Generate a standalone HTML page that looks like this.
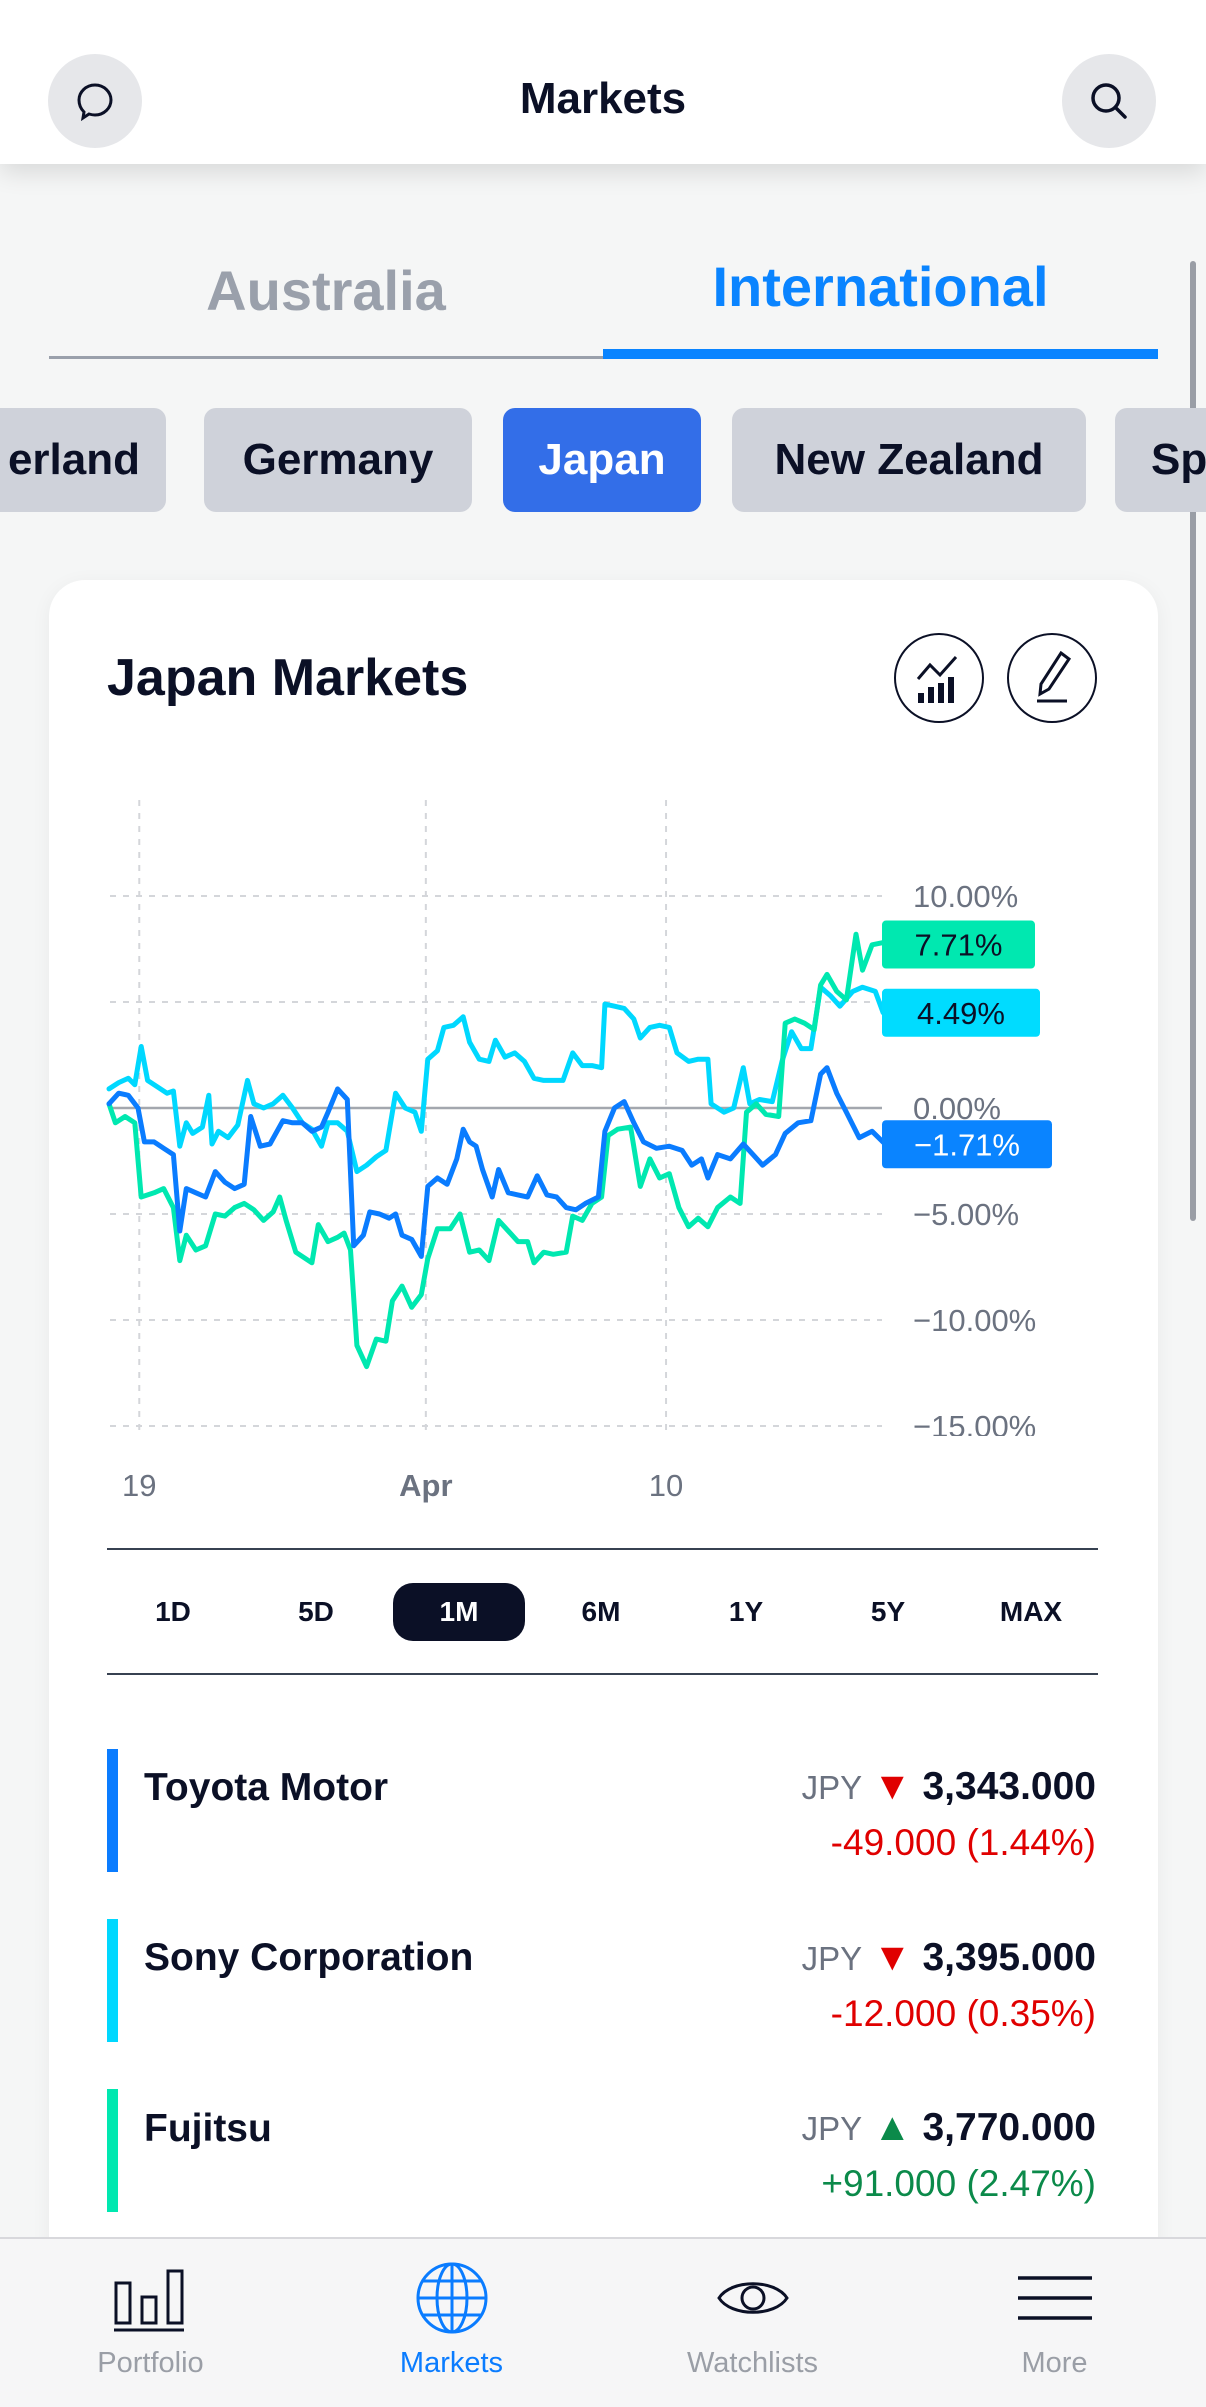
<!DOCTYPE html>
<html><head><meta charset="utf-8">
<style>
*{box-sizing:border-box;margin:0;padding:0}
body{width:1206px;height:2407px;background:#f5f6f6;font-family:"Liberation Sans",sans-serif;position:relative;overflow:hidden;color:#0b1026}
.abs{position:absolute}
.circ{position:absolute;width:94px;height:94px;border-radius:50%;background:#e6e7ea;display:flex;align-items:center;justify-content:center}
.chip{position:absolute;top:408px;height:104px;border-radius:12px;background:#cfd2da;font-size:44px;font-weight:bold;display:flex;align-items:center;justify-content:center;color:#0b1026}
.rng{position:absolute;top:1583px;height:58px;width:132px;font-size:28px;font-weight:bold;display:flex;align-items:center;justify-content:center;border-radius:20px}
.name{position:absolute;left:144px;font-size:39px;font-weight:bold}
.price{position:absolute;right:110px;font-size:39px;font-weight:bold;text-align:right;white-space:nowrap}
.cur{font-weight:normal;color:#6b7280;font-size:33px}
.chg{position:absolute;right:110px;font-size:37px;text-align:right}
.tab{position:absolute;top:2237px;width:301px;height:170px;text-align:center}
.tab span{position:absolute;left:0;right:0;top:110px;font-size:29px;color:#9a9ea6}
</style></head><body>
<div class="abs" style="left:0;top:0;width:1206px;height:164px;background:#fff;box-shadow:0 8px 24px rgba(0,0,0,0.12)"></div>
<div class="circ" style="left:48px;top:54px">
<svg width="44" height="44" viewBox="0 0 44 44"><path d="M22 6c9 0 16 7 16 15s-7 15-16 15c-2 0-4-.4-6-1l-6 4 1-6c-3-3-5-7-5-12 0-8 7-15 16-15z" fill="none" stroke="#0b1026" stroke-width="3"/></svg></div>
<div class="abs" style="left:0;width:1206px;top:74px;text-align:center;font-size:44px;font-weight:bold">Markets</div>
<div class="circ" style="left:1062px;top:54px">
<svg width="44" height="44" viewBox="0 0 44 44"><circle cx="19" cy="19" r="13" fill="none" stroke="#0b1026" stroke-width="3.5"/><line x1="29" y1="29" x2="38" y2="38" stroke="#0b1026" stroke-width="3.5" stroke-linecap="round"/></svg></div>

<div class="abs" style="left:49px;width:554px;top:258px;text-align:center;font-size:56px;font-weight:bold;color:#9aa0ab">Australia</div>
<div class="abs" style="left:603px;width:555px;top:254px;text-align:center;font-size:56px;font-weight:bold;color:#0a84ff">International</div>
<div class="abs" style="left:49px;top:356px;width:554px;height:3px;background:#9aa0ab"></div>
<div class="abs" style="left:603px;top:349px;width:555px;height:10px;background:#0a84ff"></div>
<div class="abs" style="left:1190px;top:261px;width:6px;height:960px;border-radius:3px;background:#9a9ea6"></div>

<div class="chip" style="left:-40px;width:206px;justify-content:flex-end;padding-right:26px">erland</div>
<div class="chip" style="left:204px;width:268px">Germany</div>
<div class="chip" style="left:503px;width:198px;background:#336ee8;color:#fff">Japan</div>
<div class="chip" style="left:732px;width:354px">New Zealand</div>
<div class="chip" style="left:1115px;width:140px;justify-content:flex-start;padding-left:36px">Sp</div>

<div class="abs" style="left:49px;top:580px;width:1109px;height:1700px;background:#fff;border-radius:36px;box-shadow:0 4px 20px rgba(0,0,0,0.05)"></div>
<div class="abs" style="left:107px;top:648px;font-size:52px;font-weight:bold">Japan Markets</div>
<div class="abs" style="left:894px;top:633px;width:90px;height:90px;border:2px solid #0b1026;border-radius:50%">
<svg width="86" height="86" viewBox="0 0 86 86"><polyline points="22,44 34,30 44,40 60,22" fill="none" stroke="#0b1026" stroke-width="3"/><rect x="22" y="58" width="6" height="10" fill="#0b1026"/><rect x="32" y="52" width="6" height="16" fill="#0b1026"/><rect x="42" y="48" width="6" height="20" fill="#0b1026"/><rect x="52" y="42" width="6" height="26" fill="#0b1026"/></svg></div>
<div class="abs" style="left:1007px;top:633px;width:90px;height:90px;border:2px solid #0b1026;border-radius:50%">
<svg width="86" height="86" viewBox="0 0 86 86"><path d="M52 18l8 6-20 30-9 5 1-10z" fill="none" stroke="#0b1026" stroke-width="3"/><line x1="28" y1="66" x2="58" y2="66" stroke="#0b1026" stroke-width="3"/></svg></div>

<svg id="chart" class="abs" style="left:0;top:780px" width="1206" height="656"></svg>
<div id="xlabels"></div>

<div class="abs" style="left:107px;top:1548px;width:991px;height:2px;background:#374151"></div>
<div class="rng" style="left:107px">1D</div>
<div class="rng" style="left:250px">5D</div>
<div class="rng" style="left:393px;background:#0b1026;color:#fff">1M</div>
<div class="rng" style="left:535px">6M</div>
<div class="rng" style="left:680px">1Y</div>
<div class="rng" style="left:822px">5Y</div>
<div class="rng" style="left:965px">MAX</div>
<div class="abs" style="left:107px;top:1673px;width:991px;height:2px;background:#374151"></div>

<div class="abs" style="left:107px;top:1749px;width:11px;height:123px;background:#0a7cff"></div>
<div class="name" style="top:1766px">Toyota Motor</div>
<div class="price" style="top:1765px"><span class="cur">JPY</span> <span style="color:#e00000">▼</span> 3,343.000</div>
<div class="chg" style="top:1822px;color:#e00000">-49.000 (1.44%)</div>

<div class="abs" style="left:107px;top:1919px;width:11px;height:123px;background:#00d8ff"></div>
<div class="name" style="top:1936px">Sony Corporation</div>
<div class="price" style="top:1936px"><span class="cur">JPY</span> <span style="color:#e00000">▼</span> 3,395.000</div>
<div class="chg" style="top:1993px;color:#e00000">-12.000 (0.35%)</div>

<div class="abs" style="left:107px;top:2089px;width:11px;height:123px;background:#00e8b0"></div>
<div class="name" style="top:2107px">Fujitsu</div>
<div class="price" style="top:2106px"><span class="cur">JPY</span> <span style="color:#0b8a4a">▲</span> 3,770.000</div>
<div class="chg" style="top:2163px;color:#0b8a4a">+91.000 (2.47%)</div>

<div class="abs" style="left:0;top:2237px;width:1206px;height:170px;background:#f6f6f7;border-top:2px solid #d8d8dc"></div>
<div class="tab" style="left:0">
<svg class="abs" style="left:110px;top:30px" width="80" height="66" viewBox="0 0 80 66"><rect x="6" y="16" width="14" height="40" fill="none" stroke="#0b1026" stroke-width="3"/><rect x="32" y="30" width="14" height="26" fill="none" stroke="#0b1026" stroke-width="3"/><rect x="58" y="4" width="14" height="52" fill="none" stroke="#0b1026" stroke-width="3"/><line x1="4" y1="63" x2="74" y2="63" stroke="#0b1026" stroke-width="3"/></svg><span>Portfolio</span></div>
<div class="tab" style="left:301px">
<svg class="abs" style="left:114px;top:24px" width="74" height="74" viewBox="0 0 74 74"><g fill="none" stroke="#0a7cff" stroke-width="3"><circle cx="37" cy="37" r="34"/><ellipse cx="37" cy="37" rx="15" ry="34"/><line x1="37" y1="3" x2="37" y2="71"/><line x1="3" y1="37" x2="71" y2="37"/><line x1="8" y1="20" x2="66" y2="20"/><line x1="8" y1="54" x2="66" y2="54"/></g></svg><span style="color:#0a7cff">Markets</span></div>
<div class="tab" style="left:602px">
<svg class="abs" style="left:114px;top:36px" width="74" height="50" viewBox="0 0 74 50"><path d="M3 25C15 6 59 6 71 25C59 44 15 44 3 25z" fill="none" stroke="#0b1026" stroke-width="3"/><circle cx="37" cy="25" r="11" fill="none" stroke="#0b1026" stroke-width="3"/></svg><span>Watchlists</span></div>
<div class="tab" style="left:904px">
<svg class="abs" style="left:114px;top:38px" width="74" height="46" viewBox="0 0 74 46"><g stroke="#0b1026" stroke-width="3.5"><line x1="0" y1="3" x2="74" y2="3"/><line x1="0" y1="23" x2="74" y2="23"/><line x1="0" y1="43" x2="74" y2="43"/></g></svg><span>More</span></div>

<script>
const toyotaT=[30,45,60,75,85,100,115,130,140,150,165,180,195,210,225,240,250,265,280,300,315,330,345,360,370,385,400,410,425,435,450,465,475,485,500,515,525,540,555,570,580,590,600,610,625,635,650,665,680,695,710,725,740,755,770,790,800,815,830,845,860,880,900,920,935,950,960,975,995,1015,1030,1045,1065,1080,1100,1120,1135,1145,1160,1175,1195,1215,1235];
const toyotaV=[0.2,0.7,0.6,0,-1.6,-1.6,-1.9,-2.2,-5.8,-3.8,-4.0,-4.2,-3.0,-3.5,-3.8,-3.6,-0.4,-1.8,-1.7,-0.6,-0.7,-0.7,-1.1,-0.9,-0.2,0.9,0.4,-6.5,-6.0,-4.9,-5.0,-5.2,-5.0,-6.0,-6.2,-7.0,-3.7,-3.3,-3.6,-2.4,-1.0,-1.6,-1.8,-2.9,-4.2,-2.9,-4.0,-4.1,-4.2,-3.2,-4.1,-4.2,-4.7,-4.8,-4.5,-4.2,-1.1,0,0.3,-0.7,-1.6,-1.9,-1.8,-2.0,-2.7,-2.4,-3.3,-2.2,-2.4,-1.7,-2.2,-2.7,-2.2,-1.2,-0.7,-0.6,1.6,1.9,0.7,-0.2,-1.4,-1.1,-1.7];
const sonyT=[30,45,60,70,80,90,105,120,130,140,150,160,175,185,190,200,215,230,245,255,270,285,300,315,330,345,360,370,385,400,415,430,445,460,475,490,505,515,525,540,550,565,580,590,605,620,630,645,660,675,690,705,720,735,750,765,780,795,800,815,830,845,855,870,885,900,912,930,945,960,965,985,1000,1015,1025,1040,1060,1075,1090,1105,1120,1135,1150,1165,1185,1200,1220,1232];
const sonyV=[0.9,1.2,1.4,1.1,2.9,1.3,1.0,0.7,0.8,-1.8,-0.7,-1.2,-0.9,0.6,-1.7,-1.1,-1.4,-0.8,1.3,0.2,0,0.2,0.6,0,-0.7,-1.0,-1.8,-0.7,-0.7,-1.1,-3.0,-2.7,-2.3,-2.0,0.7,0,-0.2,-1.1,2.3,2.7,3.8,3.9,4.3,3.1,2.3,2.2,3.2,2.4,2.6,2.2,1.4,1.3,1.3,1.3,2.6,2.0,2.0,1.9,4.9,4.8,4.7,4.2,3.3,3.8,3.9,3.8,2.6,2.2,2.3,2.3,0.2,-0.2,0,1.9,0.2,0.4,0.3,2.2,3.6,2.8,2.8,5.7,5.3,4.8,5.5,5.7,5.5,4.5];
const fujitsuT=[30,40,55,70,80,100,115,130,140,150,165,180,195,210,225,240,255,270,285,295,305,320,345,355,370,385,395,405,415,430,445,460,470,485,500,515,525,540,560,575,590,605,620,635,650,665,680,690,705,720,740,750,765,780,795,805,820,840,855,870,885,900,915,930,945,960,975,995,1010,1020,1035,1050,1070,1080,1095,1110,1125,1135,1145,1160,1175,1190,1200,1215,1232];
const fujitsuV=[0.2,-0.7,-0.4,-0.7,-4.2,-4.0,-3.8,-4.7,-7.2,-6.0,-6.7,-6.5,-5.0,-5.1,-4.7,-4.5,-4.8,-5.3,-4.9,-4.2,-5.3,-6.8,-7.3,-5.5,-6.3,-6.1,-5.9,-6.7,-11.2,-12.2,-10.9,-11.0,-9.1,-8.4,-9.4,-8.8,-7.1,-5.7,-5.7,-5.0,-6.8,-6.7,-7.2,-5.3,-5.8,-6.3,-6.3,-7.3,-6.8,-6.9,-6.8,-5.1,-5.3,-4.5,-4.2,-1.3,-1.0,-0.9,-3.7,-2.4,-3.3,-3.1,-4.7,-5.6,-5.2,-5.6,-4.7,-4.2,-4.5,-0.2,0.2,-0.3,-0.4,4.0,4.2,4.0,3.7,5.8,6.3,5.5,5.1,8.2,6.5,7.7,7.8];
const yTicks=[10,5,0,-5,-10,-15];
const xTickTimes=[77,522,895];
const xTickLabels=["19","Apr","10"];
const lastLabels=["7.71%","4.49%","\u22121.71%"];
const lastValues=[7.71,4.49,-1.71];

const NS="http://www.w3.org/2000/svg";
const svg=document.getElementById('chart');
const T0=30,T1=1235,X0=109,X1=885,TOP=780,ZERO=1108,PPU=21.2;
function xs(t){return X0+(t-T0)/(T1-T0)*(X1-X0);}
function ys(v){return ZERO-TOP-v*PPU;}
function mk(tag,attrs){const e=document.createElementNS(NS,tag);for(const k in attrs)e.setAttribute(k,attrs[k]);svg.appendChild(e);return e;}
xTickTimes.forEach((t,i)=>{
  const l=mk('line',{x1:xs(t),x2:xs(t),y1:20,y2:662,stroke:'#d4d6da','stroke-width':2,'stroke-dasharray':'6 7'});
  
  
});
yTicks.forEach(v=>{
  const l=mk('line',{x1:110,x2:882,y1:ys(v),y2:ys(v),stroke:v===0?'#a3a7ae':'#d4d6da','stroke-width':v===0?2.5:2,'stroke-dasharray':v===0?'none':'6 7'});
  
  
  const tx=mk('text',{x:913,y:ys(v)+11,'font-size':31,fill:'#6b7280','font-family':'Liberation Sans, sans-serif'});
  tx.textContent=(v<0?'\u2212':'')+Math.abs(v).toFixed(2)+'%';
  
  
});
function series(T,V,color,name){
  const n=Math.min(T.length,V.length);let d='';
  for(let i=0;i<n;i++)d+=(i?'L':'M')+xs(T[i]).toFixed(1)+' '+ys(V[i]).toFixed(1);
  const p=mk('path',{d:d,fill:'none',stroke:color,'stroke-width':5,'stroke-linejoin':'round','stroke-linecap':'round'});
  
  
}
series(sonyT,sonyV,'#00d8ff','sony-line');
series(fujitsuT,fujitsuV,'#00e8b0','fujitsu-line');
series(toyotaT,toyotaV,'#0a7cff','toyota-line');
const badgeCol=['#00e8b0','#00dcff','#0a84ff'],badgeTxt=['#0b1026','#0b1026','#fff'],badgeW=[153,158,170];
lastValues.forEach((v,i)=>{
  const cy=ys(v);
  const r=mk('rect',{x:882,y:cy-24,width:badgeW[i],height:48,rx:4,fill:badgeCol[i]});
  
  
  const t=mk('text',{x:882+badgeW[i]/2,y:cy+11,'font-size':31,'text-anchor':'middle',fill:badgeTxt[i],'font-family':'Liberation Sans, sans-serif'});
  t.textContent=lastLabels[i];
  
  
});
const xl=document.getElementById('xlabels');
xTickTimes.forEach((t,i)=>{
  const d=document.createElement('div');
  d.className='abs';
  d.style.cssText='top:1468px;font-size:31px;color:#6b7280;width:100px;text-align:center;left:'+(xs(t)-50)+'px;'+(i===1?'font-weight:bold':'');
  d.textContent=xTickLabels[i];
  
  
  xl.appendChild(d);
});
</script>
</body></html>
